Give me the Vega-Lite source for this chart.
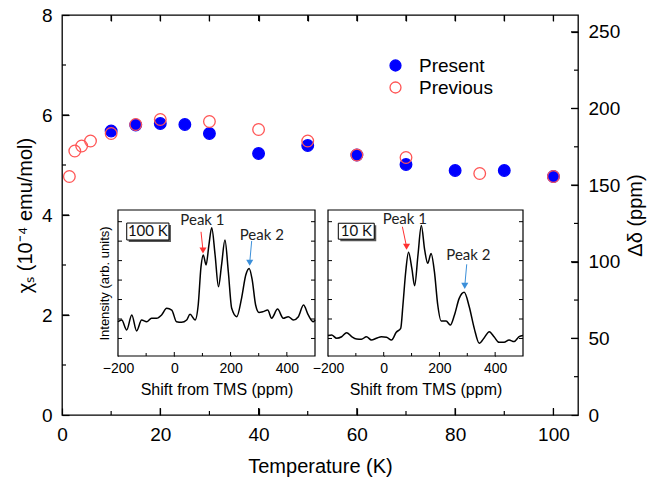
{
  "$schema": "https://vega.github.io/schema/vega-lite/v6.json",
  "width": 516,
  "height": 400,
  "autosize": {"type": "none"},
  "padding": {"left": 62, "top": 15, "right": 76, "bottom": 68},
  "background": "white",
  "config": {
    "font": "Liberation Sans",
    "view": {"stroke": "#000", "strokeWidth": 1.3},
    "axis": {
      "grid": false, "domain": false, "tickColor": "#000", "tickWidth": 1.2,
      "labelColor": "#000", "titleColor": "#000", "titleFontWeight": "normal",
      "labelFont": "Liberation Sans", "titleFont": "Liberation Sans",
      "labelFlush": false, "labelOverlap": false
    }
  },
  "datasets": {
    "chi": [
      {"T": 10, "chi": 5.68, "series": "Present"},
      {"T": 15, "chi": 5.80, "series": "Present"},
      {"T": 20, "chi": 5.83, "series": "Present"},
      {"T": 25, "chi": 5.81, "series": "Present"},
      {"T": 30, "chi": 5.63, "series": "Present"},
      {"T": 40, "chi": 5.23, "series": "Present"},
      {"T": 50, "chi": 5.39, "series": "Present"},
      {"T": 60, "chi": 5.20, "series": "Present"},
      {"T": 70, "chi": 5.01, "series": "Present"},
      {"T": 80, "chi": 4.89, "series": "Present"},
      {"T": 90, "chi": 4.89, "series": "Present"},
      {"T": 100, "chi": 4.77, "series": "Present"},
      {"T": 1.5, "chi": 4.77, "series": "Previous"},
      {"T": 2.6, "chi": 5.28, "series": "Previous"},
      {"T": 4.0, "chi": 5.38, "series": "Previous"},
      {"T": 5.8, "chi": 5.48, "series": "Previous"},
      {"T": 10, "chi": 5.63, "series": "Previous"},
      {"T": 15, "chi": 5.81, "series": "Previous"},
      {"T": 20, "chi": 5.91, "series": "Previous"},
      {"T": 30, "chi": 5.87, "series": "Previous"},
      {"T": 40, "chi": 5.71, "series": "Previous"},
      {"T": 50, "chi": 5.48, "series": "Previous"},
      {"T": 60, "chi": 5.20, "series": "Previous"},
      {"T": 70, "chi": 5.15, "series": "Previous"},
      {"T": 85, "chi": 4.83, "series": "Previous"},
      {"T": 100, "chi": 4.77, "series": "Previous"}
    ],
    "spec100K": [
      {"shift": -200, "I": 0.86}, {"shift": -187, "I": 0.95}, {"shift": -169, "I": 0.44}, {"shift": -151, "I": 1.21},
      {"shift": -134, "I": 0.39}, {"shift": -116, "I": 0.95}, {"shift": -98, "I": 0.86}, {"shift": -81, "I": 1.04},
      {"shift": -63, "I": 1.04}, {"shift": -45, "I": 1.21}, {"shift": -27, "I": 1.55}, {"shift": -9, "I": 1.46},
      {"shift": 8, "I": 0.86}, {"shift": 26, "I": 0.83}, {"shift": 44, "I": 0.95}, {"shift": 56, "I": 1.24},
      {"shift": 74, "I": 0.95}, {"shift": 85, "I": 1.72}, {"shift": 95, "I": 3.69}, {"shift": 103, "I": 4.29},
      {"shift": 113, "I": 3.78}, {"shift": 123, "I": 4.80}, {"shift": 133, "I": 5.69}, {"shift": 145, "I": 4.29},
      {"shift": 157, "I": 2.66}, {"shift": 168, "I": 3.78}, {"shift": 180, "I": 5.06}, {"shift": 192, "I": 3.43},
      {"shift": 204, "I": 1.55}, {"shift": 222, "I": 1.12}, {"shift": 239, "I": 2.06}, {"shift": 254, "I": 3.26},
      {"shift": 266, "I": 3.60}, {"shift": 277, "I": 3.00}, {"shift": 289, "I": 1.72}, {"shift": 301, "I": 1.34},
      {"shift": 316, "I": 1.38}, {"shift": 332, "I": 1.46}, {"shift": 346, "I": 1.04}, {"shift": 367, "I": 1.51},
      {"shift": 387, "I": 1.04}, {"shift": 405, "I": 1.12}, {"shift": 423, "I": 0.95}, {"shift": 441, "I": 1.12},
      {"shift": 459, "I": 1.72}, {"shift": 476, "I": 1.21}, {"shift": 494, "I": 0.86}, {"shift": 500, "I": 0.95}
    ],
    "spec10K": [
      {"shift": -200, "I": 0.15}, {"shift": -187, "I": 0.18}, {"shift": -169, "I": 0.01}, {"shift": -151, "I": 0.09},
      {"shift": -133, "I": 0.30}, {"shift": -115, "I": 0.09}, {"shift": -97, "I": -0.03}, {"shift": -80, "I": -0.04},
      {"shift": -62, "I": 0.09}, {"shift": -44, "I": -0.08}, {"shift": -26, "I": 0.01}, {"shift": -8, "I": 0.09},
      {"shift": 10, "I": 0.06}, {"shift": 28, "I": -0.08}, {"shift": 45, "I": 0.32}, {"shift": 61, "I": 0.52},
      {"shift": 69, "I": 1.72}, {"shift": 79, "I": 3.43}, {"shift": 89, "I": 4.43}, {"shift": 101, "I": 3.60},
      {"shift": 111, "I": 2.71}, {"shift": 123, "I": 4.29}, {"shift": 135, "I": 5.80}, {"shift": 147, "I": 4.55},
      {"shift": 158, "I": 3.86}, {"shift": 170, "I": 4.37}, {"shift": 182, "I": 3.43}, {"shift": 194, "I": 1.72},
      {"shift": 206, "I": 0.90}, {"shift": 224, "I": 0.90}, {"shift": 239, "I": 0.69}, {"shift": 254, "I": 1.21},
      {"shift": 271, "I": 2.06}, {"shift": 289, "I": 2.37}, {"shift": 307, "I": 1.63}, {"shift": 325, "I": 0.52},
      {"shift": 343, "I": -0.25}, {"shift": 361, "I": 0.04}, {"shift": 379, "I": 0.35}, {"shift": 396, "I": 0.09},
      {"shift": 414, "I": -0.2}, {"shift": 432, "I": -0.2}, {"shift": 450, "I": -0.08}, {"shift": 468, "I": -0.16},
      {"shift": 486, "I": 0.09}, {"shift": 500, "I": 0.15}
    ],
    "tag100K": [{"label": "100 K", "x1": -169, "x2": -19, "y1": 5.06, "y2": 5.93, "tx": -94, "ty": 5.5}],
    "tag10K": [{"label": "10 K", "x1": -163, "x2": -34, "y1": 5.10, "y2": 5.92, "tx": -98, "ty": 5.51}],
    "peaks100K": [
      {"peak": "Peak 1", "tx": 100, "ty": 6.09, "ax": 95, "ay": 5.48, "hx": 102, "hy": 4.52},
      {"peak": "Peak 2", "tx": 311, "ty": 5.32, "ax": 275, "ay": 5.01, "hx": 268, "hy": 3.89}
    ],
    "peaks10K": [
      {"peak": "Peak 1", "tx": 76, "ty": 6.14, "ax": 67, "ay": 5.74, "hx": 82, "hy": 4.71},
      {"peak": "Peak 2", "tx": 304, "ty": 4.29, "ax": 298, "ay": 3.81, "hx": 291, "hy": 2.70}
    ],
    "tMajor": [{"v": 20}, {"v": 40}, {"v": 60}, {"v": 80}, {"v": 100}],
    "tMinor": [{"v": 10}, {"v": 30}, {"v": 50}, {"v": 70}, {"v": 90}],
    "tTop": [{"v": 10}, {"v": 20}, {"v": 30}, {"v": 40}, {"v": 50}, {"v": 60}, {"v": 70}, {"v": 80}, {"v": 90}, {"v": 100}],
    "chiMajor": [{"v": 2}, {"v": 4}, {"v": 6}],
    "chiMinor": [{"v": 1}, {"v": 3}, {"v": 5}, {"v": 7}],
    "dMajor": [{"v": 50}, {"v": 100}, {"v": 150}, {"v": 200}, {"v": 250}],
    "dMinor": [{"v": 25}, {"v": 75}, {"v": 125}, {"v": 175}, {"v": 225}],
    "shiftMajor": [{"v": 0}, {"v": 200}, {"v": 400}],
    "shiftMinor": [{"v": -100}, {"v": 100}, {"v": 300}],
    "intTicks": [{"v": 0}, {"v": 1}, {"v": 2}, {"v": 3}, {"v": 4}, {"v": 5}, {"v": 6}]
  },
  "layer": [
    {
      "data": {"name": "chi"},
      "mark": {"type": "point", "filled": false, "size": 135, "strokeWidth": 1.3, "opacity": 1, "fillOpacity": 1},
      "encoding": {
        "x": {"field": "T", "type": "quantitative",
          "scale": {"domain": [0, 105], "nice": false, "zero": false},
          "axis": {"orient": "bottom", "offset": -7, "values": [0, 20, 40, 60, 80, 100], "tickSize": 7, "labelPadding": 10,
            "labelFontSize": 19, "title": "Temperature (K)", "titleFontSize": 20, "titlePadding": 12}},
        "y": {"field": "chi", "type": "quantitative",
          "scale": {"domain": [0, 8], "nice": false},
          "axis": {"orient": "left", "offset": -7, "values": [0, 2, 4, 6, 8], "tickSize": 7, "labelPadding": 10,
            "labelFontSize": 19, "title": "χₛ (10⁻⁴ emu/mol)", "titleFontSize": 20, "titlePadding": 6}},
        "fill": {"field": "series", "type": "nominal",
          "scale": {"domain": ["Present", "Previous"], "range": ["#0000ff", "transparent"]},
          "legend": {"orient": "none", "legendX": 324, "legendY": 41, "title": null, "labelFontSize": 19,
            "symbolSize": 120, "symbolStrokeWidth": 1.3, "labelOffset": 14, "rowPadding": 2, "symbolType": "circle"}},
        "stroke": {"field": "series", "type": "nominal",
          "scale": {"domain": ["Present", "Previous"], "range": ["#0000ff", "#ff5555"]},
          "legend": {"orient": "none", "legendX": 324, "legendY": 41, "title": null, "labelFontSize": 19,
            "symbolSize": 120, "symbolStrokeWidth": 1.3, "labelOffset": 14, "rowPadding": 2, "symbolType": "circle"}}
      }
    },
    {
      "data": {"values": [{}]},
      "mark": {"type": "point", "opacity": 0},
      "encoding": {
        "x": {"datum": 0, "type": "quantitative", "scale": {"domain": [0, 105], "nice": false, "zero": false},
          "axis": {"orient": "top", "offset": -6, "values": [10, 20, 30, 40, 50, 60, 70, 80, 90, 100], "tickSize": 6, "labels": false, "title": null}},
        "y": {"datum": 0, "type": "quantitative", "scale": {"domain": [0, 261], "nice": false},
          "axis": {"orient": "right", "offset": -7, "values": [0, 50, 100, 150, 200, 250], "tickSize": 7, "labelPadding": 10,
            "labelFontSize": 19, "title": "Δδ (ppm)", "titleFontSize": 20, "titleAngle": 270, "titleBaseline": "top", "titlePadding": 6}}
      }
    },
    {
      "data": {"name": "tMajor"},
      "mark": {"type": "rule", "color": "black", "strokeWidth": 1.2, "y2Offset": -7},
      "encoding": {
        "x": {"field": "v", "type": "quantitative", "scale": {"domain": [0, 105], "nice": false, "zero": false}, "axis": null},
        "y": {"datum": 0, "type": "quantitative", "scale": {"domain": [0, 8], "nice": false}, "axis": null},
        "y2": {"datum": 0}
      }
    },
    {
      "data": {"name": "tMinor"},
      "mark": {"type": "rule", "color": "black", "strokeWidth": 1.2, "y2Offset": -4},
      "encoding": {
        "x": {"field": "v", "type": "quantitative", "scale": {"domain": [0, 105], "nice": false, "zero": false}, "axis": null},
        "y": {"datum": 0, "type": "quantitative", "scale": {"domain": [0, 8], "nice": false}, "axis": null},
        "y2": {"datum": 0}
      }
    },
    {
      "data": {"name": "tTop"},
      "mark": {"type": "rule", "color": "black", "strokeWidth": 1.2, "y2Offset": 6},
      "encoding": {
        "x": {"field": "v", "type": "quantitative", "scale": {"domain": [0, 105], "nice": false, "zero": false}, "axis": null},
        "y": {"datum": 8, "type": "quantitative", "scale": {"domain": [0, 8], "nice": false}, "axis": null},
        "y2": {"datum": 8}
      }
    },
    {
      "data": {"name": "chiMajor"},
      "mark": {"type": "rule", "color": "black", "strokeWidth": 1.2, "x2Offset": 7},
      "encoding": {
        "y": {"field": "v", "type": "quantitative", "scale": {"domain": [0, 8], "nice": false}, "axis": null},
        "x": {"datum": 0, "type": "quantitative", "scale": {"domain": [0, 105], "nice": false, "zero": false}, "axis": null},
        "x2": {"datum": 0}
      }
    },
    {
      "data": {"name": "chiMinor"},
      "mark": {"type": "rule", "color": "black", "strokeWidth": 1.2, "x2Offset": 4},
      "encoding": {
        "y": {"field": "v", "type": "quantitative", "scale": {"domain": [0, 8], "nice": false}, "axis": null},
        "x": {"datum": 0, "type": "quantitative", "scale": {"domain": [0, 105], "nice": false, "zero": false}, "axis": null},
        "x2": {"datum": 0}
      }
    },
    {
      "data": {"name": "dMajor"},
      "mark": {"type": "rule", "color": "black", "strokeWidth": 1.2, "x2Offset": -7},
      "encoding": {
        "y": {"field": "v", "type": "quantitative", "scale": {"domain": [0, 261], "nice": false}, "axis": null},
        "x": {"datum": 105, "type": "quantitative", "scale": {"domain": [0, 105], "nice": false, "zero": false}, "axis": null},
        "x2": {"datum": 105}
      }
    },
    {
      "data": {"name": "dMinor"},
      "mark": {"type": "rule", "color": "black", "strokeWidth": 1.2, "x2Offset": -4},
      "encoding": {
        "y": {"field": "v", "type": "quantitative", "scale": {"domain": [0, 261], "nice": false}, "axis": null},
        "x": {"datum": 105, "type": "quantitative", "scale": {"domain": [0, 105], "nice": false, "zero": false}, "axis": null},
        "x2": {"datum": 105}
      }
    },
    {
      "layer": [
        {
          "data": {"values": [{}]},
          "mark": {"type": "rect", "fill": "white", "stroke": "black", "strokeWidth": 1.2},
          "encoding": {
            "x": {"datum": -200, "type": "quantitative", "axis": null}, "x2": {"datum": 500},
            "y": {"datum": -0.9, "type": "quantitative", "axis": null}, "y2": {"datum": 6.6}
          }
        },
        {
          "data": {"name": "spec100K"},
          "mark": {"type": "line", "color": "black", "strokeWidth": 1.5, "interpolate": "monotone"},
          "encoding": {
            "x": {"field": "shift", "type": "quantitative",
              "scale": {"domain": [-200, 500], "range": [56, 253], "nice": false, "zero": false},
              "axis": {"orient": "bottom", "offset": -63, "values": [-200, 0, 200, 400], "tickSize": 4, "labelPadding": 5,
                "labelFontSize": 14, "title": "Shift from TMS (ppm)", "titleFontSize": 16, "titlePadding": 6}},
            "y": {"field": "I", "type": "quantitative",
              "scale": {"domain": [-0.9, 6.6], "range": [341, 195], "nice": false, "zero": false},
              "axis": {"orient": "left", "offset": -60, "values": [0, 1, 2, 3, 4, 5, 6], "tickSize": 4, "labels": false,
                "title": "Intensity (arb. units)", "titleFontSize": 13, "titlePadding": 6}}
          }
        },
        {
          "data": {"name": "shiftMajor"},
          "mark": {"type": "rule", "color": "black", "strokeWidth": 1, "y2Offset": -4},
          "encoding": {
            "x": {"field": "v", "type": "quantitative", "axis": null},
            "y": {"datum": -0.9, "type": "quantitative", "axis": null}, "y2": {"datum": -0.9}
          }
        },
        {
          "data": {"name": "shiftMinor"},
          "mark": {"type": "rule", "color": "black", "strokeWidth": 1, "y2Offset": -3},
          "encoding": {
            "x": {"field": "v", "type": "quantitative", "axis": null},
            "y": {"datum": -0.9, "type": "quantitative", "axis": null}, "y2": {"datum": -0.9}
          }
        },
        {
          "data": {"name": "intTicks"},
          "mark": {"type": "rule", "color": "black", "strokeWidth": 1, "x2Offset": 4},
          "encoding": {
            "y": {"field": "v", "type": "quantitative", "axis": null},
            "x": {"datum": -200, "type": "quantitative", "axis": null}, "x2": {"datum": -200}
          }
        },
        {
          "data": {"name": "intTicks"},
          "mark": {"type": "rule", "color": "black", "strokeWidth": 1, "x2Offset": -4},
          "encoding": {
            "y": {"field": "v", "type": "quantitative", "axis": null},
            "x": {"datum": 500, "type": "quantitative", "axis": null}, "x2": {"datum": 500}
          }
        },
        {
          "data": {"name": "tag100K"},
          "mark": {"type": "rect", "fill": "#555", "xOffset": 2, "x2Offset": 2, "yOffset": 2, "y2Offset": 2},
          "encoding": {
            "x": {"field": "x1", "type": "quantitative", "axis": null}, "x2": {"field": "x2"},
            "y": {"field": "y1", "type": "quantitative", "axis": null}, "y2": {"field": "y2"}
          }
        },
        {
          "data": {"name": "tag100K"},
          "mark": {"type": "rect", "fill": "white", "stroke": "black", "strokeWidth": 1},
          "encoding": {
            "x": {"field": "x1", "type": "quantitative", "axis": null}, "x2": {"field": "x2"},
            "y": {"field": "y1", "type": "quantitative", "axis": null}, "y2": {"field": "y2"}
          }
        },
        {
          "data": {"name": "tag100K"},
          "mark": {"type": "text", "font": "Lato", "fontSize": 15, "color": "#111", "align": "center", "baseline": "middle"},
          "encoding": {
            "x": {"field": "tx", "type": "quantitative", "axis": null},
            "y": {"field": "ty", "type": "quantitative", "axis": null},
            "text": {"field": "label"}
          }
        },
        {
          "data": {"name": "peaks100K"},
          "mark": {"type": "rule", "strokeWidth": 1},
          "encoding": {
            "x": {"field": "ax", "type": "quantitative", "axis": null}, "x2": {"field": "hx"},
            "y": {"field": "ay", "type": "quantitative", "axis": null}, "y2": {"field": "hy"},
            "color": {"field": "peak", "type": "nominal", "scale": {"domain": ["Peak 1", "Peak 2"], "range": ["#ff3030", "#3b8fd9"]}, "legend": null}
          }
        },
        {
          "data": {"name": "peaks100K"},
          "mark": {"type": "point", "shape": "triangle-down", "filled": true, "size": 50, "opacity": 1},
          "encoding": {
            "x": {"field": "hx", "type": "quantitative", "axis": null},
            "y": {"field": "hy", "type": "quantitative", "axis": null},
            "color": {"field": "peak", "type": "nominal", "scale": {"domain": ["Peak 1", "Peak 2"], "range": ["#ff3030", "#1f78c8"]}, "legend": null}
          }
        },
        {
          "data": {"name": "peaks100K"},
          "mark": {"type": "text", "font": "Lato", "fontSize": 15, "color": "#222", "align": "center", "baseline": "middle"},
          "encoding": {
            "x": {"field": "tx", "type": "quantitative", "axis": null},
            "y": {"field": "ty", "type": "quantitative", "axis": null},
            "text": {"field": "peak"}
          }
        }
      ],
      "resolve": {"axis": {"x": "independent", "y": "independent"}}
    },
    {
      "layer": [
        {
          "data": {"values": [{}]},
          "mark": {"type": "rect", "fill": "white", "stroke": "black", "strokeWidth": 1.2},
          "encoding": {
            "x": {"datum": -200, "type": "quantitative", "axis": null}, "x2": {"datum": 500},
            "y": {"datum": -0.9, "type": "quantitative", "axis": null}, "y2": {"datum": 6.6}
          }
        },
        {
          "data": {"name": "spec10K"},
          "mark": {"type": "line", "color": "black", "strokeWidth": 1.5, "interpolate": "monotone"},
          "encoding": {
            "x": {"field": "shift", "type": "quantitative",
              "scale": {"domain": [-200, 500], "range": [266, 461], "nice": false, "zero": false},
              "axis": {"orient": "bottom", "offset": -63, "values": [-200, 0, 200, 400], "tickSize": 4, "labelPadding": 5,
                "labelFontSize": 14, "title": "Shift from TMS (ppm)", "titleFontSize": 16, "titlePadding": 6}},
            "y": {"field": "I", "type": "quantitative",
              "scale": {"domain": [-0.9, 6.6], "range": [341, 195], "nice": false, "zero": false},
              "axis": null}
          }
        },
        {
          "data": {"name": "shiftMajor"},
          "mark": {"type": "rule", "color": "black", "strokeWidth": 1, "y2Offset": -4},
          "encoding": {
            "x": {"field": "v", "type": "quantitative", "axis": null},
            "y": {"datum": -0.9, "type": "quantitative", "axis": null}, "y2": {"datum": -0.9}
          }
        },
        {
          "data": {"name": "shiftMinor"},
          "mark": {"type": "rule", "color": "black", "strokeWidth": 1, "y2Offset": -3},
          "encoding": {
            "x": {"field": "v", "type": "quantitative", "axis": null},
            "y": {"datum": -0.9, "type": "quantitative", "axis": null}, "y2": {"datum": -0.9}
          }
        },
        {
          "data": {"name": "intTicks"},
          "mark": {"type": "rule", "color": "black", "strokeWidth": 1, "x2Offset": 4},
          "encoding": {
            "y": {"field": "v", "type": "quantitative", "axis": null},
            "x": {"datum": -200, "type": "quantitative", "axis": null}, "x2": {"datum": -200}
          }
        },
        {
          "data": {"name": "intTicks"},
          "mark": {"type": "rule", "color": "black", "strokeWidth": 1, "x2Offset": -4},
          "encoding": {
            "y": {"field": "v", "type": "quantitative", "axis": null},
            "x": {"datum": 500, "type": "quantitative", "axis": null}, "x2": {"datum": 500}
          }
        },
        {
          "data": {"name": "tag10K"},
          "mark": {"type": "rect", "fill": "#555", "xOffset": 2, "x2Offset": 2, "yOffset": 2, "y2Offset": 2},
          "encoding": {
            "x": {"field": "x1", "type": "quantitative", "axis": null}, "x2": {"field": "x2"},
            "y": {"field": "y1", "type": "quantitative", "axis": null}, "y2": {"field": "y2"}
          }
        },
        {
          "data": {"name": "tag10K"},
          "mark": {"type": "rect", "fill": "white", "stroke": "black", "strokeWidth": 1},
          "encoding": {
            "x": {"field": "x1", "type": "quantitative", "axis": null}, "x2": {"field": "x2"},
            "y": {"field": "y1", "type": "quantitative", "axis": null}, "y2": {"field": "y2"}
          }
        },
        {
          "data": {"name": "tag10K"},
          "mark": {"type": "text", "font": "Lato", "fontSize": 15, "color": "#111", "align": "center", "baseline": "middle"},
          "encoding": {
            "x": {"field": "tx", "type": "quantitative", "axis": null},
            "y": {"field": "ty", "type": "quantitative", "axis": null},
            "text": {"field": "label"}
          }
        },
        {
          "data": {"name": "peaks10K"},
          "mark": {"type": "rule", "strokeWidth": 1},
          "encoding": {
            "x": {"field": "ax", "type": "quantitative", "axis": null}, "x2": {"field": "hx"},
            "y": {"field": "ay", "type": "quantitative", "axis": null}, "y2": {"field": "hy"},
            "color": {"field": "peak", "type": "nominal", "scale": {"domain": ["Peak 1", "Peak 2"], "range": ["#ff3030", "#3b8fd9"]}, "legend": null}
          }
        },
        {
          "data": {"name": "peaks10K"},
          "mark": {"type": "point", "shape": "triangle-down", "filled": true, "size": 50, "opacity": 1},
          "encoding": {
            "x": {"field": "hx", "type": "quantitative", "axis": null},
            "y": {"field": "hy", "type": "quantitative", "axis": null},
            "color": {"field": "peak", "type": "nominal", "scale": {"domain": ["Peak 1", "Peak 2"], "range": ["#ff3030", "#1f78c8"]}, "legend": null}
          }
        },
        {
          "data": {"name": "peaks10K"},
          "mark": {"type": "text", "font": "Lato", "fontSize": 15, "color": "#222", "align": "center", "baseline": "middle"},
          "encoding": {
            "x": {"field": "tx", "type": "quantitative", "axis": null},
            "y": {"field": "ty", "type": "quantitative", "axis": null},
            "text": {"field": "peak"}
          }
        }
      ],
      "resolve": {"axis": {"x": "independent", "y": "independent"}}
    }
  ],
  "resolve": {"scale": {"x": "independent", "y": "independent"}}
}
